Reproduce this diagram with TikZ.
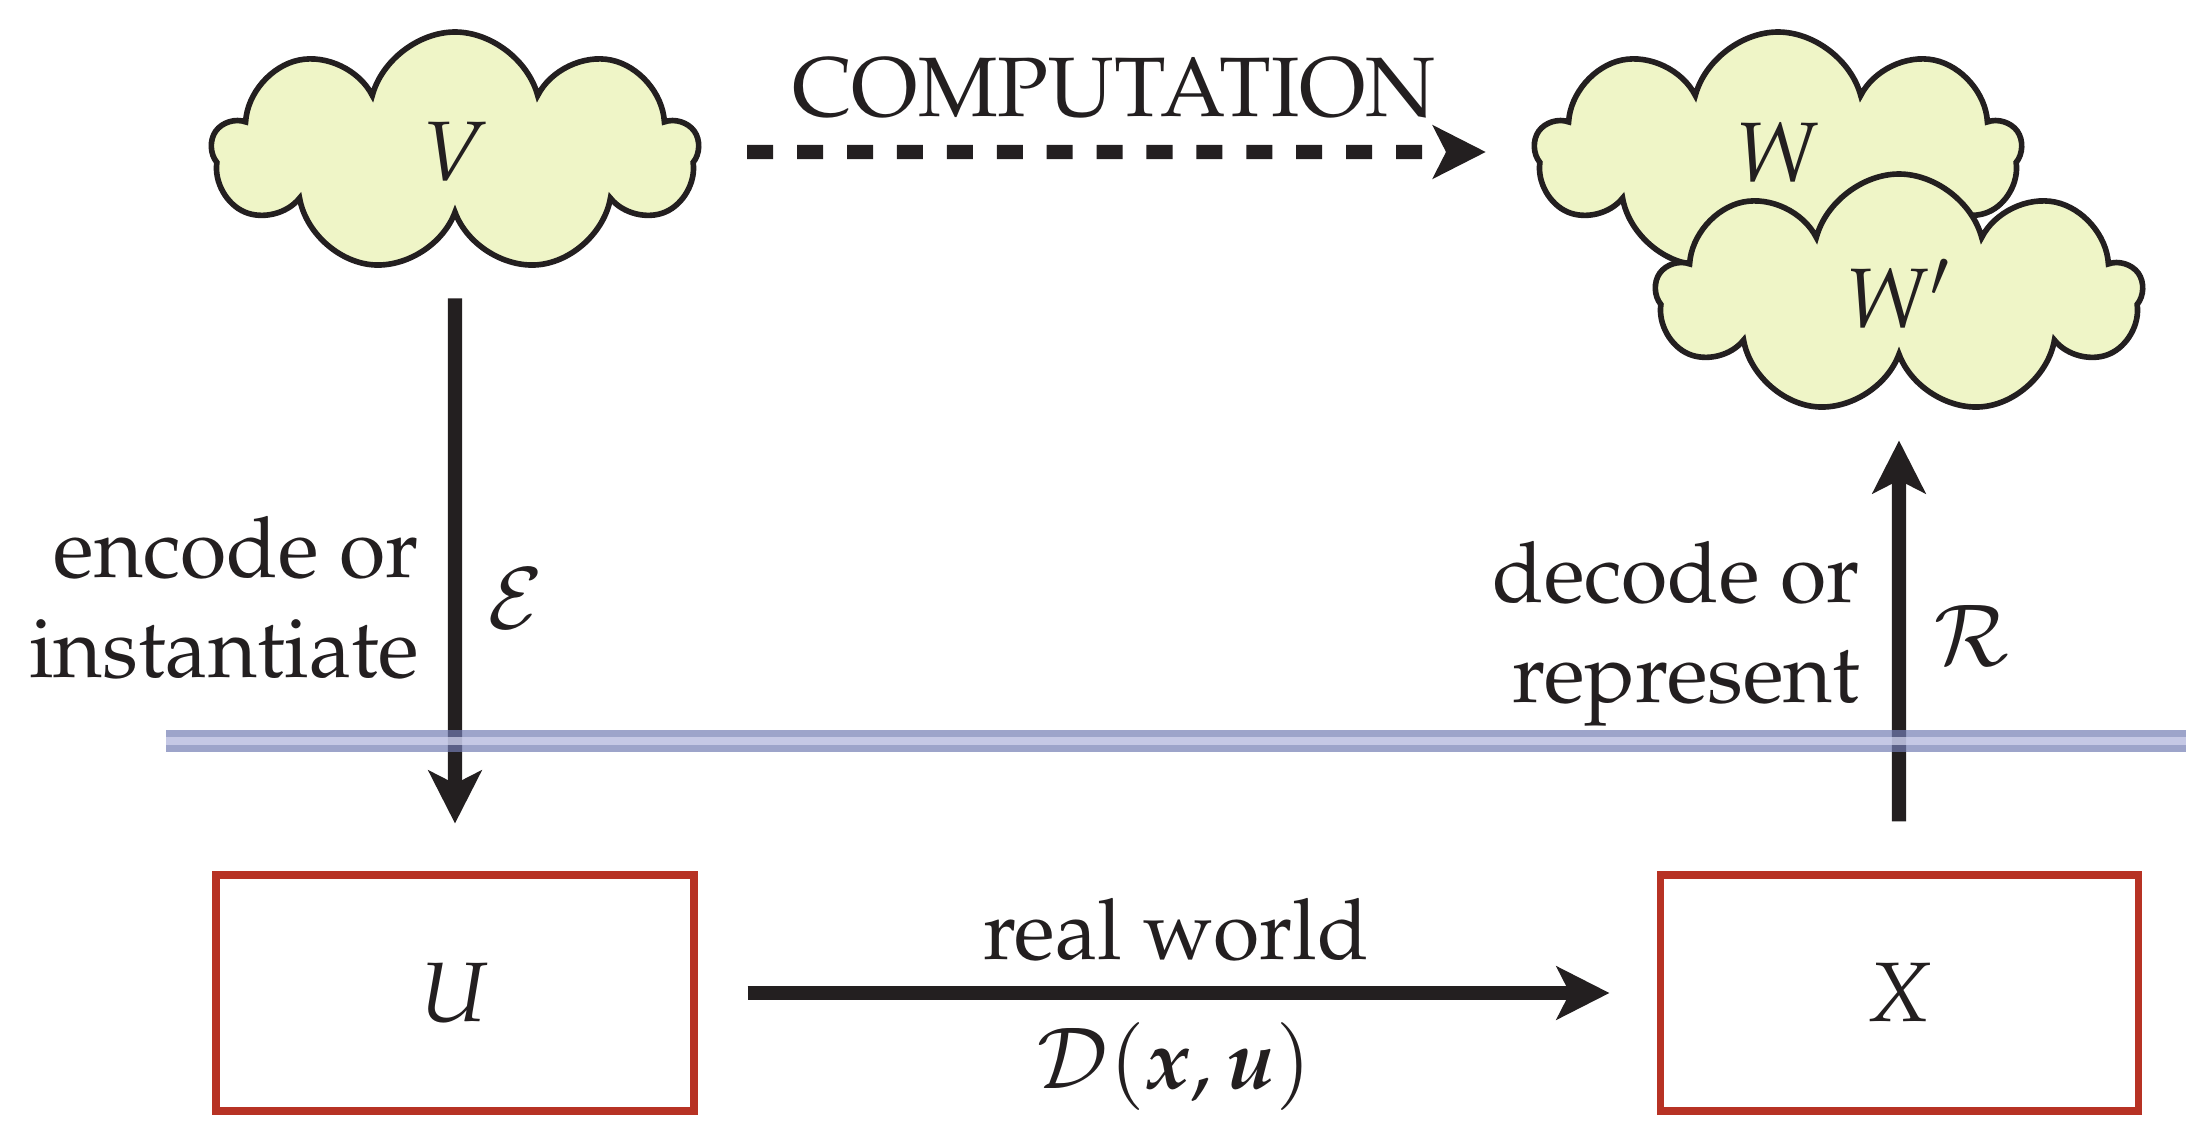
\documentclass[tikz,border=0pt]{standalone}
\usepackage[T1]{fontenc}
\usepackage{mathpazo}
\usepackage{bm}
\usetikzlibrary{shapes.symbols,arrows.meta}
\definecolor{ink}{RGB}{35,31,32}
\definecolor{cloudfill}{RGB}{239,245,199}
\definecolor{boxred}{RGB}{183,50,36}
\definecolor{bandblue}{RGB}{115,125,180}
\definecolor{bandlight}{RGB}{214,217,240}

\begin{document}
\begin{tikzpicture}[>={Stealth[length=15pt,width=15pt,inset=3.7pt]},
  font=\fontsize{24}{28.5}\selectfont, text=ink,
  cloudnode/.style={cloud, cloud puffs=9, cloud puff arc=150, aspect=2, draw=ink, fill=cloudfill, line width=1.6pt, minimum width=4.86cm, minimum height=2.4cm, inner sep=0pt},
  boxnode/.style={rectangle, draw=boxred, line width=2pt, minimum width=4.78cm, minimum height=2.36cm},
  bigarrow/.style={->, draw=ink, line width=4pt}]
\useasboundingbox (0,0) rectangle (22.11,11.39);

\node(V) at (4.55,9.87)[cloudnode]{$V$};
\node(W) at (17.78,9.87)[cloudnode]{$W$};
\node(W2) at (18.99,8.45)[cloudnode]{$W'$};

\node(U) at (4.55,1.46)[boxnode]{$U$};
\node(X) at (18.99,1.46)[boxnode]{$X$};

\node(comp) at (11.14,10.23)[anchor=base]{COMPUTATION};
\draw[bigarrow, dash pattern=on 7.4pt off 6.8pt, shorten <=0.46cm, shorten >=0.46cm](V)--(W);

\node(enc) at (4.20,5.415)[left, align=right, inner sep=0pt]{encode or\\instantiate};
\node(calE) at (5.16,5.40)[inner sep=0pt]{$\mathcal{E}$};
\draw[bigarrow, shorten <=0.79cm, shorten >=0.48cm](V)--(U);

\node(dec) at (18.61,5.05)[left, align=right, inner sep=0pt]{decode or\\represent};
\node(calR) at (19.72,5.03)[inner sep=0pt]{$\mathcal{R}$};
\draw[bigarrow, shorten <=0.5cm, shorten >=0.79cm](X)--(W2);

\node(rw) at (11.76,1.80)[anchor=base]{real world};
\node(dyn) at (11.74,0.51)[anchor=base]{$\mathcal{D}(\bm{x},\bm{u})$};
\draw[bigarrow, shorten <=0.5cm, shorten >=0.47cm](U)--(X);

% boundary between model and world
\coordinate(bandL) at (1.66,3.98);
\coordinate(bandR) at (21.86,3.98);
\draw[draw=bandblue, double=bandlight, line width=2.25pt, double distance=2pt, opacity=0.7](bandL)--(bandR);

\end{tikzpicture}
\end{document}
